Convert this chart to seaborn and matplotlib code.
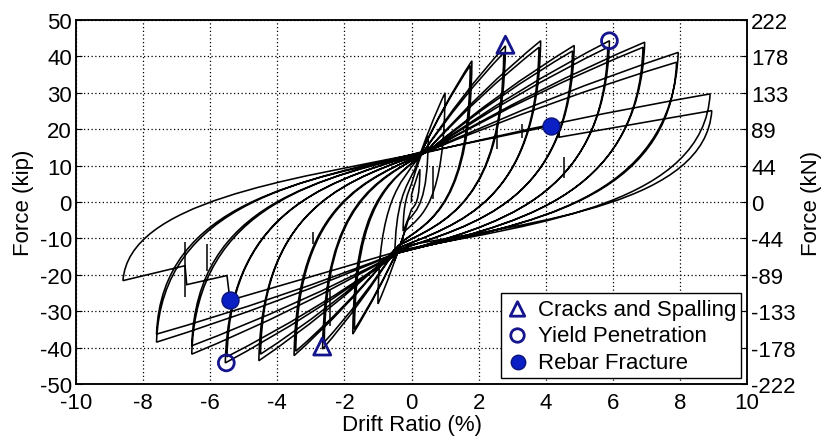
import matplotlib
matplotlib.use("Agg")
import matplotlib.pyplot as plt
from matplotlib.path import Path
from matplotlib.patches import PathPatch
import seaborn as sns

# ---- cyclic test record (drift ratio in %, lateral force in kip) ----
# positive excursion peaks, in loading order
pos_peak_drift = [0.25, 0.5, 1.0, 1.8, 1.75, 2.8, 2.75, 3.85, 3.8, 4.85, 4.8,
                  5.9, 5.85, 6.95, 6.9, 7.95, 7.9, 8.9, 8.95]
pos_peak_force = [9.0, 18.0, 30.0, 38.8, 37.5, 42.9, 41.0, 44.3, 42.5, 43.0, 41.5,
                  44.3, 42.5, 43.9, 42.5, 41.1, 38.4, 29.7, 25.1]
# negative excursion peaks
neg_peak_drift = [-0.25, -0.5, -1.0, -1.75, -1.7, -2.65, -2.6, -3.5, -3.45,
                  -4.55, -4.5, -5.55, -5.5, -6.55, -6.55, -7.6, -7.6, -8.6]
neg_peak_force = [-8.0, -16.0, -28.0, -36.3, -35.0, -40.4, -38.5, -42.2, -41.0,
                  -43.6, -41.8, -44.2, -42.5, -41.8, -39.5, -38.5, -36.3, -21.6]
# pinching points crossed near zero drift (before each push / after each push)
cplus_drift = [0.0, 0.0, 0.1, 0.2, 0.2, 0.3, 0.3, 0.4, 0.4, 0.5, 0.5,
               0.5, 0.5, 0.6, 0.6, 0.5, 0.5, 0.4, 0.3]
cplus_force = [2.0, 5.0, 9.0, 12.0, 12.0, 13.0, 13.0, 13.5, 13.5, 14.0, 14.0,
               14.0, 14.0, 14.5, 14.5, 14.0, 14.0, 13.5, 13.5]
cminus_drift = [0.0, -0.1, -0.2, -0.3, -0.3, -0.4, -0.4, -0.5, -0.5, -0.5, -0.5,
                -0.4, -0.4, -0.4, -0.4, -0.3, -0.3, -0.2, -0.2]
cminus_force = [-2.0, -5.0, -8.0, -11.0, -11.0, -12.0, -12.0, -13.0, -13.0, -13.5,
                -13.5, -14.0, -14.0, -14.0, -14.0, -13.5, -13.5, -13.0, -12.0]
# force drops after bar fracture (last pull and last push)
neg_break_drift = [-5.41, -5.5, -6.7, -6.75]
neg_break_force = [-27.0, -20.2, -22.7, -17.5]
pos_break_drift = [4.15, 4.4, 4.4]
pos_break_force = [20.9, 19.6, 17.8]
neg_break_cycle = 17
pos_break_cycle = 18
# short load spikes in the record
spike_drift = [-6.75, -6.1, -2.95, -2.43, 0.65, 2.54, 3.3, 4.55]
spike_low = [-26.0, -19.0, -11.5, -34.0, 0.8, 14.6, 17.5, 6.5]
spike_high = [-11.0, -11.5, -8.3, -24.0, 10.0, 20.0, 21.5, 12.5]

# damage events
crack_drift, crack_force = [2.8, -2.66], [43.2, -39.7]
yield_drift, yield_force = [5.9, -5.52], [44.3, -44.2]
fracture_drift, fracture_force = [4.15, -5.41], [20.9, -27.0]

kip_ticks = [-50, -40, -30, -20, -10, 0, 10, 20, 30, 40, 50]
kn_labels = ["-222", "-178", "-133", "-89", "-44", "0", "44", "89", "133", "178", "222"]
drift_ticks = [-10, -8, -6, -4, -2, 0, 2, 4, 6, 8, 10]

# ---- style ----
sns.set_style("white")
plt.rcParams["font.family"] = ["Liberation Sans", "DejaVu Sans"]
plt.rcParams["font.size"] = 16
plt.rcParams["text.color"] = "black"
plt.rcParams["axes.labelcolor"] = "black"
plt.rcParams["xtick.color"] = "black"
plt.rcParams["ytick.color"] = "black"

fig = plt.figure(figsize=(8.25, 4.39), dpi=100)
ax = fig.add_axes([76 / 825, 1 - 385 / 439, (747 - 76) / 825, (385 - 21) / 439])

# ---- hysteresis path ----
verts, codes = [], []


def line_to(p):
    verts.append(p)
    codes.append(Path.LINETO)


def loading(c, p):
    # slightly concave branch from the pinching point to the peak
    ctrl = ((c[0] + p[0]) / 2, (c[1] + p[1]) / 2 + 0.08 * (p[1] - c[1]))
    verts.extend([ctrl, p])
    codes.extend([Path.CURVE3, Path.CURVE3])


def unloading(p, c):
    # steep drop from the peak that flattens into the pinching point
    c1 = (p[0] * 0.98, 0.0)
    c2 = (c[0] + 0.45 * (p[0] - c[0]), 0.45 * c[1])
    verts.extend([c1, c2, c])
    codes.extend([Path.CURVE4] * 3)


verts.append((0.0, 0.0))
codes.append(Path.MOVETO)
line_to((cplus_drift[0], cplus_force[0]))
for i in range(len(pos_peak_drift)):
    c_up = (cplus_drift[i], cplus_force[i])
    p_up = (pos_peak_drift[i], pos_peak_force[i])
    if i == pos_break_cycle:
        for x, y in zip(pos_break_drift, pos_break_force):
            line_to((x, y))
        line_to(p_up)
    else:
        loading(c_up, p_up)
    c_dn = (cminus_drift[i], cminus_force[i])
    unloading(p_up, c_dn)
    if i < len(neg_peak_drift):
        p_dn = (neg_peak_drift[i], neg_peak_force[i])
        if i == neg_break_cycle:
            for x, y in zip(neg_break_drift, neg_break_force):
                line_to((x, y))
            line_to(p_dn)
        else:
            loading(c_dn, p_dn)
        unloading(p_dn, (cplus_drift[i + 1], cplus_force[i + 1]))

ax.add_patch(PathPatch(Path(verts, codes), facecolor="none", edgecolor="black",
                       lw=1.15, zorder=3, joinstyle="miter"))
ax.vlines(spike_drift, spike_low, spike_high, color="black", lw=1.1, zorder=3)

# ---- event markers ----
navy = "#14148c"
sns.scatterplot(x=crack_drift, y=crack_force, marker="^", s=150, facecolors="none",
                edgecolor=navy, linewidth=2, label="Cracks and Spalling", ax=ax, zorder=5)
sns.scatterplot(x=yield_drift, y=yield_force, marker="o", s=130, facecolors="none",
                edgecolor=navy, linewidth=2, label="Yield Penetration", ax=ax, zorder=5)
sns.scatterplot(x=fracture_drift, y=fracture_force, marker="o", s=150, color="#0a1fc4",
                edgecolor="#0a1478", linewidth=1, label="Rebar Fracture", ax=ax, zorder=5)

# ---- axes ----
ax.set_xlim(-10, 10)
ax.set_ylim(-50, 50)
ax.set_xticks(drift_ticks)
ax.set_xticklabels([str(t) for t in drift_ticks])
ax.set_yticks(kip_ticks)
ax.set_yticklabels([str(t) for t in kip_ticks])
ax.grid(True, color="black", linestyle=(0, (1, 2)), linewidth=0.9)
ax.set_axisbelow(True)
ax.tick_params(direction="in", length=4, labelsize=16, pad=3)
ax.tick_params(axis="x", pad=5.5)
ax.set_xlabel("Drift Ratio (%)", fontsize=16, labelpad=1)
ax.set_ylabel("Force (kip)", fontsize=16, labelpad=4)
for sp in ax.spines.values():
    sp.set_color("black")
    sp.set_linewidth(1.1)

ax2 = ax.twinx()
ax2.set_ylim(-50, 50)
ax2.set_yticks(kip_ticks)
ax2.set_yticklabels(kn_labels)
ax2.tick_params(direction="in", length=4, labelsize=16, pad=3)
ax2.set_ylabel("Force (kN)", fontsize=16, labelpad=4)
for sp in ax2.spines.values():
    sp.set_color("black")
    sp.set_linewidth(1.1)

leg = ax.legend(loc="lower right", fontsize=16, frameon=True, fancybox=False,
                framealpha=1, edgecolor="black", borderaxespad=0.25,
                handlelength=1.0, handletextpad=0.4, labelspacing=0.25,
                borderpad=0.25, markerscale=0.85)
leg.get_frame().set_linewidth(1.0)
leg.set_zorder(10)

fig.savefig("out.png", dpi=100)
